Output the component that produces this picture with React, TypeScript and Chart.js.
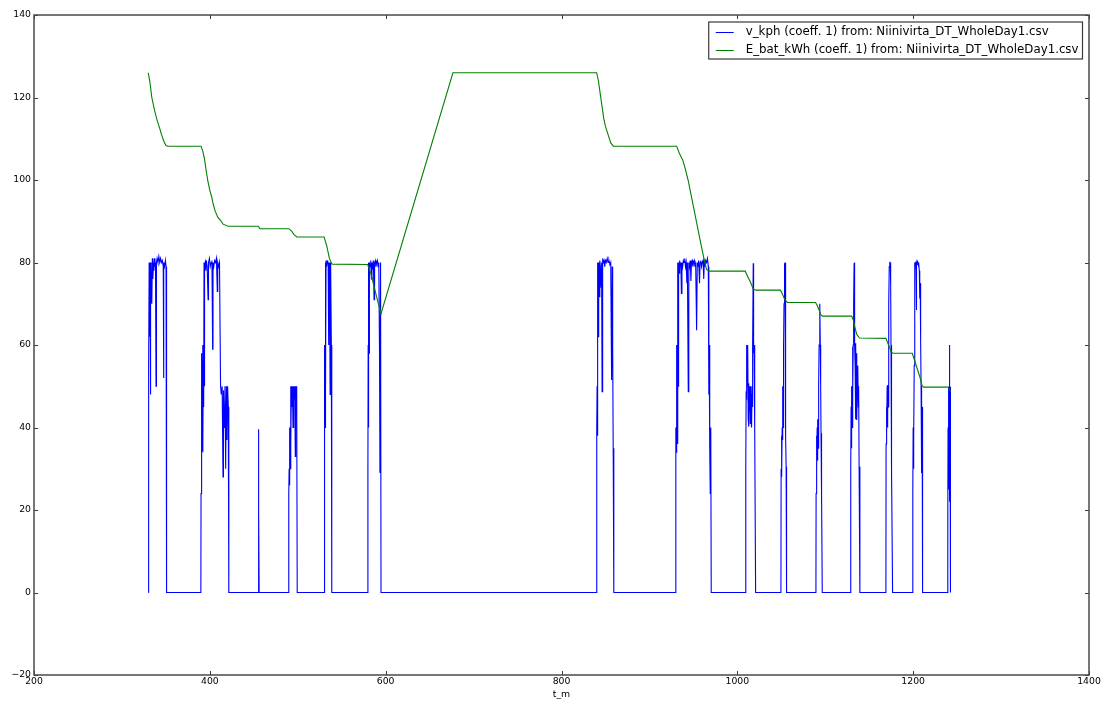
import React, { useEffect, useRef } from 'react';
import { Chart, registerables } from 'chart.js';

Chart.register(...registerables);

const FONT = 'DejaVu Sans';

const xTickValues = [200, 400, 600, 800, 1000, 1200, 1400];
const yTickValues = [-20, 0, 20, 40, 60, 80, 100, 120, 140];

const seriesLabels = [
  'v_kph (coeff. 1) from: Niinivirta_DT_WholeDay1.csv',
  'E_bat_kWh (coeff. 1) from: Niinivirta_DT_WholeDay1.csv',
];
const seriesColors = ['#0000ff', '#008000'];

// v_kph : time (t_m) and speed values
const speedT = [
  330.1, 330.2, 330.6, 331, 331.5, 332, 332.4, 332.8, 333.3, 333.8, 334.2, 334.6, 335.2, 335.8, 336.4, 337, 337.6, 338.2, 338.8, 339.3, 340, 341, 342, 343, 344, 345, 346, 347, 347.3, 347.8, 348.5, 349.5, 350.2, 350.6, 351,
  389.8,
  390, 390.3, 390.6, 391, 391.4, 391.8, 392.2, 392.6, 393, 393.4, 393.8, 394.2, 394.8, 395.5, 396, 397, 398, 398.5, 399.5, 400.5, 401.5, 402.4, 403.2, 403.6, 404.5, 405.5, 406.5, 407.5, 408.5, 409, 410, 411, 412.2, 413, 414, 415, 415.5, 416.5, 417.2, 418, 418.8, 419.5, 420.2, 421, 421.6,
  455, 455.3, 455.7, 456.1,
  489.6,
  489.8, 490.2, 490.6, 491, 491.4, 491.8, 492.3, 492.8, 493.3, 494, 494.6, 495.3, 496, 496.6, 497.2, 497.6, 498.2, 498.8, 499.4,
  530.1,
  530.2, 530.5, 530.8, 531.1, 531.4, 531.8, 532.2, 532.8, 533.4, 534, 534.6, 535.2, 535.6, 536.2, 536.8, 537.2, 537.7, 538.2, 538.7,
  579.5,
  579.8, 580.1, 580.4, 580.7, 581.1, 581.5, 582.2, 583, 583.8, 584.4, 585.2, 586, 586.8, 587.4, 588.2, 589, 589.8, 590.6, 591.4, 592.2, 593, 593.5, 594.2, 594.7,
  840,
  840.1, 840.5, 840.9, 841.3, 841.8, 842.3, 843, 843.6, 844.2, 845, 845.6, 846.2, 846.8, 847.6, 848.4, 849.2, 850, 851, 852, 853, 854, 855, 856, 857, 857.6, 858.2, 858.8, 859.5,
  929.8,
  929.9, 930.2, 930.5, 930.8, 931.2, 931.6, 932, 932.4, 932.8, 933.2, 933.8, 934.4, 935, 935.8, 936.4, 937, 937.8, 938.6, 939.4, 940.2, 941, 941.8, 942.6, 943.2, 944.2, 944.8, 945.6, 946.4, 947.2, 947.8, 948.6, 949.4, 950.2, 951, 951.8, 952.6, 953.7, 954.4, 955.2, 956, 957, 957.6, 958.4, 959.2, 960, 961, 961.8, 962.4, 963.2, 964, 965, 966, 967, 967.6, 968, 968.6, 969.2, 969.8, 970.3,
  1009.4,
  1009.6, 1010, 1010.4, 1010.8, 1011.2, 1011.6, 1012, 1012.4, 1012.8, 1013.2, 1013.6, 1014, 1014.4, 1014.8, 1015.2, 1015.6, 1016, 1016.4, 1016.8, 1017.2, 1017.6, 1018.1, 1018.5, 1019, 1019.5, 1020, 1020.8,
  1049.6,
  1049.8, 1050.2, 1050.6, 1051, 1051.4, 1051.8, 1052.2, 1052.6, 1053.1, 1053.5, 1053.9, 1054.3, 1054.7, 1055.1, 1055.5, 1056,
  1089.4,
  1089.6, 1090, 1090.4, 1090.8, 1091.2, 1091.6, 1092, 1092.5, 1093, 1093.6, 1094, 1094.4, 1094.8, 1095.2, 1095.6, 1096, 1096.6,
  1128.8,
  1129, 1129.4, 1129.8, 1130.2, 1130.6, 1131, 1131.4, 1131.8, 1132.3, 1132.8, 1133.2, 1133.6, 1134, 1134.4, 1134.8, 1135.2, 1135.6, 1136, 1136.4, 1136.8, 1137.2, 1137.6, 1138, 1138.5, 1139.4,
  1169,
  1169.2, 1169.6, 1170, 1170.4, 1170.8, 1171.2, 1171.6, 1172, 1172.4, 1172.8, 1173.2, 1173.6, 1174, 1174.4, 1174.8, 1175.2, 1175.6, 1176.6,
  1199.4,
  1199.6, 1200, 1200.4, 1200.8, 1201.2, 1201.6, 1202, 1202.4, 1202.8, 1203.3, 1203.6, 1204, 1204.5, 1205, 1205.5, 1206, 1206.5, 1207, 1207.5, 1208, 1208.5, 1209, 1209.4, 1209.8, 1210.2, 1210.7,
  1239.2,
  1239.4, 1239.7, 1240, 1240.3, 1240.6, 1240.9, 1241.2, 1241.4, 1241.7, 1241.9, 1242.2, 1242.6,
];

const speedV = [
  0, 38, 55, 80, 62, 80, 48, 79, 72, 80, 70, 81, 76, 80, 78, 81, 79, 80, 50, 80, 81, 80, 81.5, 80, 81, 80, 80.5, 79, 52, 80, 79, 80.5, 79, 45, 0,
  0,
  24, 40, 35, 58, 38, 60, 34, 59, 45, 80, 50, 79, 80, 78, 80.5, 79, 71, 80, 81, 79, 80, 80.5, 59, 80, 79, 80.5, 80, 81, 73, 80, 79, 80, 50, 48, 50, 28, 49, 40, 50, 30, 50, 37, 50, 45, 0,
  0, 39.6, 20, 0,
  0,
  24, 30, 26, 40, 30, 50, 36, 50, 45, 50, 40, 50, 47, 50, 33, 50, 44, 50, 0,
  0,
  30, 45, 60, 40, 80, 50, 80.5, 79, 80, 80.5, 79.5, 60, 80, 79, 48, 80, 79, 60, 0,
  0,
  30, 60, 40, 80, 58, 80, 79, 80.5, 76, 80, 79, 80.5, 71, 80, 80.5, 79, 80, 80.5, 79, 80, 58, 29, 80, 0,
  0,
  40, 50, 38, 80, 62, 80, 71.7, 80.5, 79, 74, 80, 48.7, 81, 80, 80.5, 79, 80.5, 80, 81, 80, 80.5, 79.5, 80, 51.5, 79, 60, 35, 0,
  0,
  24, 40, 34, 60, 40, 58, 36, 80, 50, 80, 77.4, 80.5, 79, 80, 72.5, 80, 79, 80.5, 80, 81, 79, 80, 75, 80, 48.7, 80, 79, 80.5, 75.5, 80, 80.5, 79, 80, 80.5, 79, 80, 63.6, 80, 79, 80.5, 75, 80, 80.5, 79, 80, 80.5, 76, 80, 79, 80.5, 80, 81, 79, 48, 60, 35, 24, 40, 0,
  0,
  30, 48, 60, 47.5, 59, 50, 60, 42, 50.7, 40.2, 50, 44, 49, 41, 50, 42, 48, 40, 50, 45, 60, 79.8, 58, 60, 50, 40, 0,
  0,
  30, 38, 28, 40, 37, 50, 40, 60, 70, 79.8, 78, 80, 50, 38, 30.5, 0,
  0,
  24, 38, 30, 40, 32, 42, 35, 50, 60, 70, 69, 60, 50, 38.6, 30, 24, 0,
  0,
  30, 45, 35, 50, 40, 59.6, 48, 60, 70, 79.8, 80, 60, 55, 42, 60.4, 45, 58, 41.8, 50, 48, 55, 45, 50, 30.5, 0,
  0,
  36, 45, 38, 50, 40, 50.3, 45, 60, 70, 79, 80.2, 79, 80, 75, 60, 45, 29.7, 0,
  0,
  25, 40, 30, 38, 55, 70, 80, 79, 80.2, 78, 68.5, 80, 79.5, 80.2, 80, 79, 80, 78, 71.3, 75, 61.2, 50, 35, 29, 45, 0,
  0,
  19.2, 40, 25, 49.9, 30, 45, 22, 60, 35, 49.9, 20, 0,
];

// E_bat_kWh : time (t_m) and energy values
const energyT = [
  330, 332, 334, 337, 340, 343, 345, 348, 350, 352, 390, 392, 394, 396, 398, 400, 402, 404, 406, 409, 412, 415, 421,
  455, 457, 490, 493, 496, 499, 530, 533, 536, 539, 579.5, 583, 587, 590, 594.7, 676.5, 840, 842, 844, 846, 848, 850, 853,
  856, 859, 931, 934, 938, 941, 944, 947, 950, 953, 957.6, 962, 965, 968, 1009, 1012, 1015, 1018, 1021, 1049, 1051,
  1054, 1057, 1089, 1091, 1093, 1095, 1097, 1130, 1132, 1134, 1136, 1139, 1169, 1172, 1175, 1177, 1199, 1202, 1205, 1208,
  1210, 1212, 1240, 1242.6,
];

const energyE = [
  126, 123.5, 120, 117, 114.5, 112.5, 111, 109.2, 108.4, 108.2, 108.2, 107, 105, 102, 99.5, 97.5, 96, 94, 92.5, 91, 90.3, 89.3, 88.8,
  88.8, 88.2, 88.2, 87.6, 86.7, 86.2, 86.2, 84, 81, 79.6, 79.5, 77.5, 74, 71.4, 67.6, 126, 126, 124, 121, 118, 115, 113, 111,
  109, 108.2, 108.2, 106.5, 104.8, 102.5, 100, 96.8, 93.6, 90.4, 85.5, 81, 78.3, 77.9, 77.9, 76.5, 75.2, 73.6, 73.3, 73.3, 72.5,
  71, 70.3, 70.3, 69.5, 68.5, 67.3, 67, 67, 66, 64, 62.5, 61.7, 61.6, 60, 58.3, 58, 58, 56, 54, 52,
  50.2, 49.8, 49.8, 48.7,
];

const fmt = (v: number | string) => String(v).replace('-', '\u2212');

const framePlugin = {
  id: 'mplFrame',
  afterDatasetsDraw(chart: any) {
    const { ctx, chartArea: a, scales } = chart;
    ctx.save();
    ctx.strokeStyle = '#3a3a3a';
    ctx.lineWidth = 1;
    const tl = 4;
    ctx.beginPath();
    xTickValues.forEach((v) => {
      const px = Math.round(scales.x.getPixelForValue(v)) + 0.5;
      ctx.moveTo(px, a.bottom);
      ctx.lineTo(px, a.bottom - tl);
      ctx.moveTo(px, a.top);
      ctx.lineTo(px, a.top + tl);
    });
    yTickValues.forEach((v) => {
      const py = Math.round(scales.y.getPixelForValue(v)) + 0.5;
      ctx.moveTo(a.left, py);
      ctx.lineTo(a.left + tl, py);
      ctx.moveTo(a.right, py);
      ctx.lineTo(a.right - tl, py);
    });
    ctx.stroke();
    ctx.strokeStyle = '#4a4a4a';
    ctx.lineWidth = 1.5;
    ctx.strokeRect(a.left, a.top, a.right - a.left, a.bottom - a.top);

    // legend
    ctx.font = `11.8px "${FONT}"`;
    const maxW = Math.max(...seriesLabels.map((s) => ctx.measureText(s).width));
    const boxRight = a.right - 6.5;
    const boxTop = a.top + 7;
    const boxBottom = boxTop + 37;
    const textX = boxRight - 4 - maxW;
    const boxLeft = textX - 37;
    ctx.fillStyle = '#ffffff';
    ctx.fillRect(boxLeft, boxTop, boxRight - boxLeft, boxBottom - boxTop);
    ctx.strokeStyle = '#3a3a3a';
    ctx.lineWidth = 1.2;
    ctx.strokeRect(boxLeft, boxTop, boxRight - boxLeft, boxBottom - boxTop);
    const rows = [boxTop + 9.5, boxTop + 27.5];
    seriesLabels.forEach((s, i) => {
      ctx.strokeStyle = seriesColors[i];
      ctx.lineWidth = 1;
      ctx.beginPath();
      ctx.moveTo(boxLeft + 7, Math.round(rows[i]) + 0.5);
      ctx.lineTo(boxLeft + 25, Math.round(rows[i]) + 0.5);
      ctx.stroke();
      ctx.fillStyle = '#000';
      ctx.textAlign = 'left';
      ctx.textBaseline = 'middle';
      ctx.fillText(s, textX, rows[i]);
    });
    ctx.restore();
  },
};

export default function App() {
  const ref = useRef<HTMLCanvasElement>(null);
  useEffect(() => {
    if (!ref.current) return;
    const speedData = speedT.map((t, i) => ({ x: t, y: speedV[i] }));
    const energyData = energyT.map((t, i) => ({ x: t, y: energyE[i] }));
    const chart = new Chart(ref.current, {
      type: 'line',
      data: {
        datasets: [
          {
            label: seriesLabels[0],
            data: speedData,
            borderColor: seriesColors[0],
            borderWidth: 1.1,
            pointRadius: 0,
            tension: 0,
            fill: false,
            order: 2,
          },
          {
            label: seriesLabels[1],
            data: energyData,
            borderColor: seriesColors[1],
            borderWidth: 1.1,
            pointRadius: 0,
            tension: 0,
            fill: false,
            order: 1,
          },
        ],
      },
      options: {
        responsive: false,
        animation: false,
        devicePixelRatio: 1,
        layout: { padding: { top: 15, right: 16, left: 0, bottom: 0 } },
        plugins: {
          legend: { display: false },
          tooltip: { enabled: false },
        },
        scales: {
          x: {
            type: 'linear',
            min: 200,
            max: 1400,
            ticks: {
              stepSize: 200,
              font: { family: FONT, size: 9.3 },
              color: '#000',
              padding: 1.5,
              maxRotation: 0,
              autoSkip: false,
              callback: (v: any) => fmt(v),
            },
            grid: { display: false, drawTicks: false },
            border: { display: false },
            title: {
              display: true,
              text: 't_m',
              font: { family: FONT, size: 9.3 },
              color: '#000',
              padding: { top: 0, bottom: 1.5 },
            },
            afterFit: (s: any) => {
              s.height = 27;
            },
          },
          y: {
            type: 'linear',
            min: -20,
            max: 140,
            ticks: {
              stepSize: 20,
              font: { family: FONT, size: 9.3 },
              color: '#000',
              padding: 3,
              callback: (v: any) => fmt(v),
            },
            grid: { display: false, drawTicks: false },
            border: { display: false },
            afterFit: (s: any) => {
              s.width = 34;
            },
          },
        },
      },
      plugins: [framePlugin],
    });
    return () => chart.destroy();
  }, []);
  return (
    <div style={{ position: 'fixed', left: 0, top: 0, width: 1105, height: 702, background: '#fff' }}>
      <canvas ref={ref} width={1105} height={702} style={{ display: 'block' }} />
    </div>
  );
}
